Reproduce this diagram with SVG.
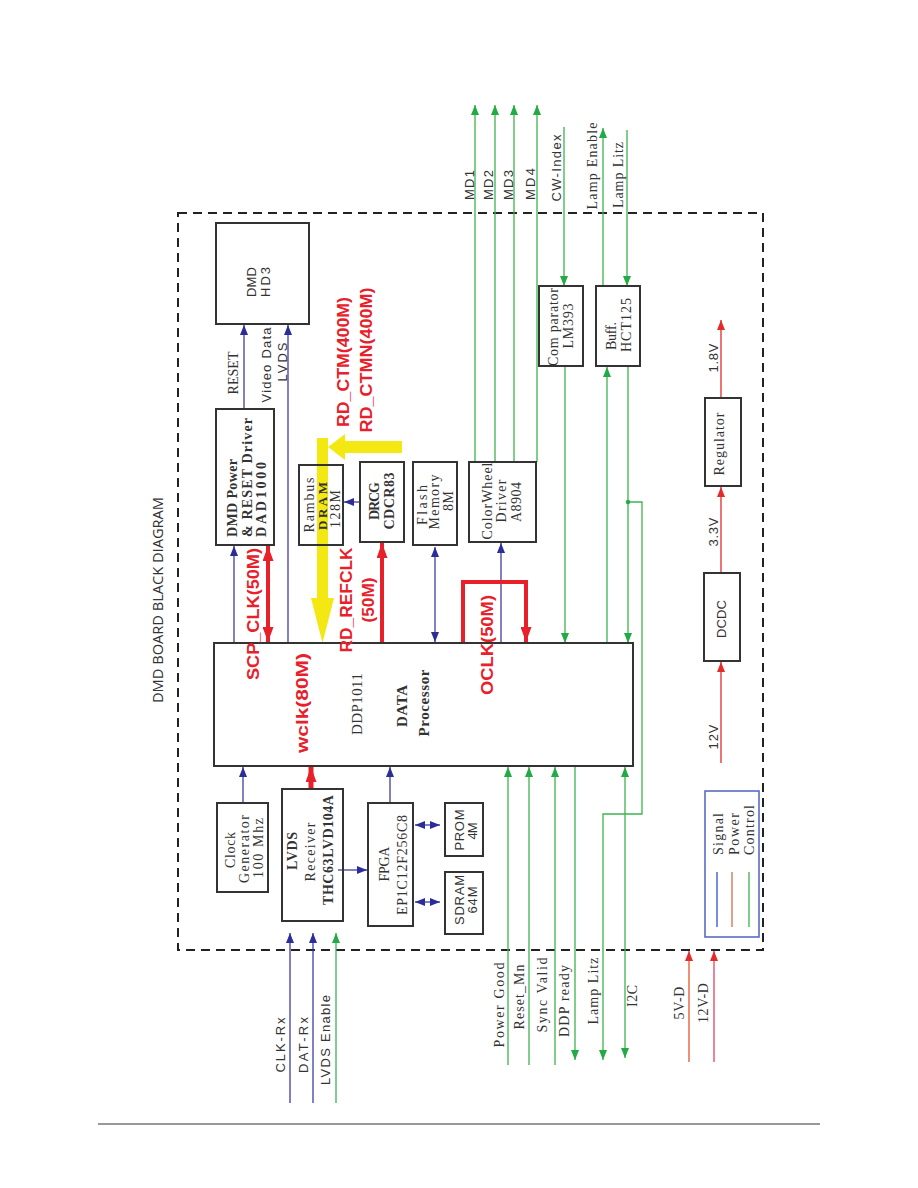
<svg xmlns="http://www.w3.org/2000/svg" width="918" height="1188" viewBox="0 0 918 1188">
<style>
text{fill:#333;font-size:13px;text-anchor:middle}
.s{font-family:"Liberation Serif",serif;font-size:14px}
.ss{font-family:"Liberation Sans",sans-serif}
.b{font-family:"Liberation Serif",serif;font-weight:bold;font-size:14px}
.d{font-family:"Liberation Serif",serif;font-size:15px}
.db{font-family:"Liberation Serif",serif;font-size:15px;font-weight:bold}
.r{font-family:"Liberation Sans",sans-serif;font-weight:bold;font-size:16px;fill:#e8202a}
.st{text-anchor:start}
.box{fill:none;stroke:#333;stroke-width:2}
.g{stroke:#3cb44b;stroke-width:1.3;fill:none}
.bl{stroke:#2d2d9a;stroke-width:1.2;fill:none}
.rd{stroke:#e42a2a;stroke-width:1.3;fill:none}
.rt{stroke:#e8202a;stroke-width:4;fill:none}
</style>
<defs>
<marker id="ag" markerUnits="userSpaceOnUse" markerWidth="10" markerHeight="8" refX="10" refY="4" orient="auto-start-reverse"><path d="M0,0 L10,4 L0,8 z" fill="#22aa44"/></marker>
<marker id="ab" markerUnits="userSpaceOnUse" markerWidth="10" markerHeight="8" refX="10" refY="4" orient="auto-start-reverse"><path d="M0,0 L10,4 L0,8 z" fill="#2d2d9a"/></marker>
<marker id="ar" markerUnits="userSpaceOnUse" markerWidth="10" markerHeight="8" refX="10" refY="4" orient="auto-start-reverse"><path d="M0,0 L10,4 L0,8 z" fill="#e42a2a"/></marker>
<marker id="art" markerUnits="userSpaceOnUse" markerWidth="15" markerHeight="11" refX="15" refY="5.5" orient="auto-start-reverse"><path d="M0,0 L15,5.5 L0,11 z" fill="#e8202a"/></marker>
</defs>
<rect width="918" height="1188" fill="#fff"/>

<g id="frame">
<rect x="178" y="213" width="585" height="737" fill="none" stroke="#222" stroke-width="2" stroke-dasharray="9,6"/>
<text class="ss" transform="translate(163,600) rotate(-90)" style="font-family:'Open Sans',sans-serif;font-size:14px" textLength="206" lengthAdjust="spacingAndGlyphs">DMD BOARD BLACK DIAGRAM</text>
<line x1="98" y1="1124" x2="820" y2="1124" stroke="#333" stroke-width="1.2"/>
</g>

<g id="connectors">
<path class="bl" d="M244,409 L244,325" marker-end="url(#ab)"/>
<path class="bl" d="M288,643 L288,325" marker-end="url(#ab)"/>
<path class="bl" d="M234,643 L234,546" marker-end="url(#ab)"/>
<path class="bl" d="M360,502 L344,502" marker-end="url(#ab)"/>
<path class="bl" d="M435,547 L435,642" marker-start="url(#ab)" marker-end="url(#ab)"/>
<path class="bl" d="M501,643 L501,543" marker-end="url(#ab)"/>
<path class="bl" d="M243,803 L243,767" marker-end="url(#ab)"/>
<path class="bl" d="M338,870 L367,870" marker-end="url(#ab)"/>
<path class="bl" d="M390,803 L390,767" marker-end="url(#ab)"/>
<path class="bl" d="M415,825 L440,825" marker-start="url(#ab)" marker-end="url(#ab)"/>
<path class="bl" d="M415,902 L440,902" marker-start="url(#ab)" marker-end="url(#ab)"/>
<path class="bl" d="M290,1103 L290,933" marker-end="url(#ab)"/>
<path class="bl" d="M313,1103 L313,933" marker-end="url(#ab)"/>
<path class="g" d="M336,1103 L336,933" marker-end="url(#ag)"/>
<path class="g" d="M475,462 L475,105" marker-end="url(#ag)"/>
<path class="g" d="M495,462 L495,105" marker-end="url(#ag)"/>
<path class="g" d="M514,462 L514,105" marker-end="url(#ag)"/>
<path class="g" d="M537,462 L537,105" marker-end="url(#ag)"/>
<path class="g" d="M564,127 L564,286" marker-end="url(#ag)"/>
<path class="g" d="M565,366 L565,643" marker-end="url(#ag)"/>
<path class="g" d="M603,286 L603,128" marker-end="url(#ag)"/>
<path class="g" d="M627,130 L627,286" marker-end="url(#ag)"/>
<path class="g" d="M607,643 L607,367" marker-end="url(#ag)"/>
<path class="g" d="M628,366 L628,643" marker-end="url(#ag)"/>
<path class="g" d="M628,502 L642,502 L642,814 L603,814 L603,1060" marker-end="url(#ag)"/>
<circle cx="628" cy="502" r="2.2" fill="#22aa44"/>
<path class="g" d="M508,1065 L508,767" marker-end="url(#ag)"/>
<path class="g" d="M529,1065 L529,767" marker-end="url(#ag)"/>
<path class="g" d="M555,1065 L555,767" marker-end="url(#ag)"/>
<path class="g" d="M575,766 L575,1060" marker-end="url(#ag)"/>
<path class="g" d="M625,767 L625,1058" marker-start="url(#ag)" marker-end="url(#ag)"/>
<path class="rd" d="M721,763 L721,662" marker-end="url(#ar)"/>
<path class="rd" d="M721,573 L721,487" marker-end="url(#ar)"/>
<path class="rd" d="M721,398 L721,320" marker-end="url(#ar)"/>
<path d="M689,1062 L689,951" stroke="#e8603c" stroke-width="1.4" fill="none" marker-end="url(#ar)"/>
<path d="M714,1062 L714,951" stroke="#e0506e" stroke-width="1.4" fill="none" marker-end="url(#ar)"/>
<path class="rt" d="M268,546 L268,642" marker-start="url(#art)" marker-end="url(#art)"/>
<path class="rt" d="M382,643 L382,543" marker-end="url(#art)"/>
<path class="rt" style="stroke-width:5" d="M311,789 L311,767" marker-end="url(#art)"/>
<path class="rt" d="M463,643 L463,582 L526,582 L526,642" marker-end="url(#art)"/>
<g fill="#f4e812">
<rect x="317" y="438" width="11" height="162"/>
<polygon points="311,598 334,598 322.5,643"/>
<rect x="343" y="441" width="59" height="12"/>
<polygon points="328,447 345,434 345,460"/>
</g>
</g>

<g id="dmd">
<rect class="box" x="216" y="223" width="93" height="101"/>
<text class="ss" transform="translate(256,282) rotate(-90)" textLength="30">DMD</text>
<text class="ss" transform="translate(270,282) rotate(-90)" textLength="30">HD3</text>
</g>
<g id="labels-top">
<text class="s" transform="translate(237.5,373) rotate(-90)" textLength="43">RESET</text>
<text class="ss" transform="translate(270.5,365) rotate(-90)" textLength="75">Video Data</text>
<text class="ss" transform="translate(287,362) rotate(-90)" textLength="39">LVDS</text>
<text class="ss" transform="translate(473.5,185) rotate(-90)" textLength="30">MD1</text>
<text class="ss" transform="translate(492.5,185) rotate(-90)" textLength="30">MD2</text>
<text class="ss" transform="translate(512.5,185) rotate(-90)" textLength="30">MD3</text>
<text class="ss" transform="translate(534.5,184) rotate(-90)" textLength="32">MD4</text>
<text class="ss" transform="translate(560.5,168) rotate(-90)" textLength="67">CW-Index</text>
<text class="s" transform="translate(596.5,166) rotate(-90)" textLength="87">Lamp Enable</text>
<text class="s" transform="translate(622.5,175) rotate(-90)" textLength="66">Lamp Litz</text>
<text class="ss" transform="translate(718,358) rotate(-90)" textLength="29">1.8V</text>
<text class="ss" transform="translate(718,532) rotate(-90)" textLength="29">3.3V</text>
<text class="ss" transform="translate(718,737) rotate(-90)" textLength="25">12V</text>
</g>

<g id="dmd-power">
<rect class="box" x="216" y="409" width="58" height="136"/>
<text class="b st" transform="translate(237,537) rotate(-90)" textLength="78">DMD Power</text>
<text class="b st" transform="translate(252,537) rotate(-90)" textLength="119">&amp; RESET Driver</text>
<text class="b st" transform="translate(266,537) rotate(-90)" textLength="75">DAD1000</text>
</g>
<g id="rambus">
<rect class="box" x="299" y="465" width="44" height="80"/>
<text class="s" transform="translate(314,505) rotate(-90)" textLength="55">Rambus</text>
<text class="b" transform="translate(327,506) rotate(-90)" textLength="48" style="font-size:13px">DRAM</text>
<text class="s" transform="translate(340,509) rotate(-90)" textLength="38">128M</text>
</g>
<g id="drcg">
<rect class="box" x="360" y="462" width="44" height="80"/>
<text class="b" transform="translate(379,501) rotate(-90)" textLength="38">DRCG</text>
<text class="b" transform="translate(394,501) rotate(-90)" textLength="57">CDCR83</text>
</g>
<g id="flash">
<rect class="box" x="413" y="462" width="44" height="83"/>
<text class="s" transform="translate(427,505) rotate(-90)" textLength="40">Flash</text>
<text class="s" transform="translate(439,502) rotate(-90)" textLength="55">Memory</text>
<text class="s" transform="translate(453,501) rotate(-90)" textLength="20">8M</text>
</g>
<g id="colorwheel">
<rect class="box" x="469" y="462" width="67" height="80"/>
<text class="s" transform="translate(492,501) rotate(-90)" textLength="77">ColorWheel</text>
<text class="s" transform="translate(506,501) rotate(-90)" textLength="43">Driver</text>
<text class="s" transform="translate(521,502) rotate(-90)" textLength="40">A8904</text>
</g>
<g id="comparator">
<rect class="box" x="539" y="286" width="44" height="80"/>
<text class="s" transform="translate(558,327) rotate(-90)" textLength="78">Com parator</text>
<text class="s" transform="translate(573,326) rotate(-90)" textLength="45">LM393</text>
</g>
<g id="buff">
<rect class="box" x="596" y="286" width="44" height="80"/>
<text class="s" transform="translate(616,336) rotate(-90)" textLength="28">Buff.</text>
<text class="s" transform="translate(631,325) rotate(-90)" textLength="54">HCT125</text>
</g>
<g id="regulator">
<rect class="box" x="705" y="398" width="36" height="88"/>
<text class="s" transform="translate(724,444) rotate(-90)" textLength="63">Regulator</text>
</g>
<g id="dcdc">
<rect class="box" x="704" y="573" width="36" height="88"/>
<text class="ss" transform="translate(726,619) rotate(-90)" textLength="38">DCDC</text>
</g>
<g id="ddp">
<rect class="box" x="214" y="643" width="419" height="123"/>
<text class="d" transform="translate(362,704) rotate(-90)" textLength="62">DDP1011</text>
<text class="db" transform="translate(407,706) rotate(-90)" textLength="42">DATA</text>
<text class="db" transform="translate(429,703) rotate(-90)" textLength="67">Processor</text>
</g>
<g id="red-labels">
<text class="r" transform="translate(259,614) rotate(-90)" textLength="132" lengthAdjust="spacingAndGlyphs">SCP_CLK(50M)</text>
<text class="r" transform="translate(308,703) rotate(-90)" textLength="100" lengthAdjust="spacingAndGlyphs">wclk(80M)</text>
<text class="r" transform="translate(352,600) rotate(-90)" textLength="105" lengthAdjust="spacingAndGlyphs">RD_REFCLK</text>
<text class="r" transform="translate(374,600) rotate(-90)" textLength="45" lengthAdjust="spacingAndGlyphs">(50M)</text>
<text class="r" transform="translate(493,645) rotate(-90)" textLength="100" lengthAdjust="spacingAndGlyphs">OCLK(50M)</text>
<text class="r" transform="translate(349,362) rotate(-90)" textLength="130" lengthAdjust="spacingAndGlyphs">RD_CTM(400M)</text>
<text class="r" transform="translate(372,360) rotate(-90)" textLength="145" lengthAdjust="spacingAndGlyphs">RD_CTMN(400M)</text>
</g>
<g id="clock">
<rect class="box" x="217" y="803" width="51" height="89"/>
<text class="s" transform="translate(234.5,850) rotate(-90)" textLength="36">Clock</text>
<text class="s" transform="translate(248.5,849) rotate(-90)" textLength="68">Generator</text>
<text class="s" transform="translate(262.5,848) rotate(-90)" textLength="60">100 Mhz</text>
</g>
<g id="lvds">
<rect class="box" x="282" y="789" width="61" height="132"/>
<text class="b" transform="translate(297,851) rotate(-90)" textLength="38">LVDS</text>
<text class="s" transform="translate(315,852) rotate(-90)" textLength="59">Receiver</text>
<text class="b" transform="translate(333,850) rotate(-90)" textLength="110">THC63LVD104A</text>
</g>
<g id="fpga">
<rect class="box" x="368" y="803" width="45" height="123"/>
<text class="s" transform="translate(389,864) rotate(-90)" textLength="35">FPGA</text>
<text class="s" transform="translate(407,865) rotate(-90)" textLength="100">EP1C12F256C8</text>
</g>
<g id="prom">
<rect class="box" x="445" y="803" width="38" height="53"/>
<text class="ss" transform="translate(463.5,830) rotate(-90)" textLength="41">PROM</text>
<text class="ss" transform="translate(476.5,831) rotate(-90)" textLength="17">4M</text>
</g>
<g id="sdram">
<rect class="box" x="445" y="872" width="38" height="62"/>
<text class="ss" transform="translate(463.5,900) rotate(-90)" textLength="50">SDRAM</text>
<text class="ss" transform="translate(476.5,900) rotate(-90)" textLength="27">64M</text>
</g>
<g id="legend">
<rect x="705" y="791" width="54" height="146" fill="none" stroke="#5060c0" stroke-width="1.5"/>
<line x1="717" y1="872" x2="717" y2="927" stroke="#3050c8" stroke-width="1.3"/>
<line x1="732" y1="872" x2="732" y2="927" stroke="#d07050" stroke-width="1.3"/>
<line x1="749" y1="872" x2="749" y2="927" stroke="#3cb44b" stroke-width="1.3"/>
<text class="s st" transform="translate(722.5,855) rotate(-90)" textLength="42">Signal</text>
<text class="s st" transform="translate(738.5,855) rotate(-90)" textLength="42">Power</text>
<text class="s st" transform="translate(753.5,855) rotate(-90)" textLength="50">Control</text>
</g>
<g id="labels-bottom">
<text class="s" transform="translate(503.5,1005) rotate(-90)" textLength="85">Power Good</text>
<text class="s" transform="translate(523.5,997) rotate(-90)" textLength="65">Reset_Mn</text>
<text class="s" transform="translate(546.5,995) rotate(-90)" textLength="75">Sync Valid</text>
<text class="s" transform="translate(568.5,1001) rotate(-90)" textLength="72">DDP ready</text>
<text class="s" transform="translate(597.5,991) rotate(-90)" textLength="67">Lamp Litz</text>
<text class="s" transform="translate(636.5,996) rotate(-90)" textLength="22">I2C</text>
<text class="s" transform="translate(683.5,1003) rotate(-90)" textLength="33">5V-D</text>
<text class="s" transform="translate(707.5,1003) rotate(-90)" textLength="40">12V-D</text>
<text class="ss" transform="translate(284.5,1045) rotate(-90)" textLength="55">CLK-Rx</text>
<text class="ss" transform="translate(307.5,1045) rotate(-90)" textLength="56">DAT-Rx</text>
<text class="ss" transform="translate(329.5,1040) rotate(-90)" textLength="90">LVDS Enable</text>
</g>
</svg>
